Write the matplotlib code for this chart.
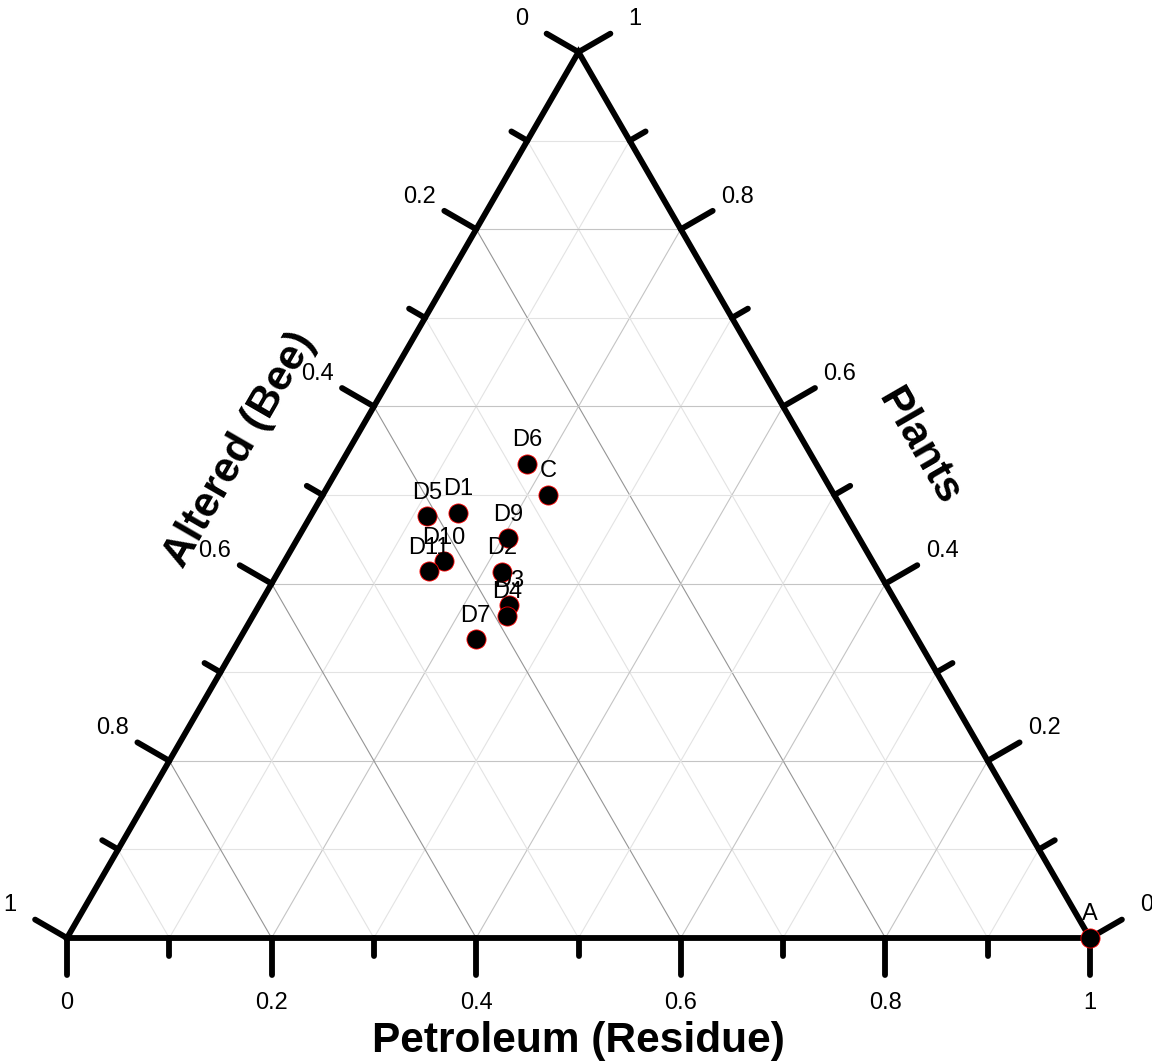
import numpy as np
import matplotlib
matplotlib.use("Agg")
import matplotlib.pyplot as plt

plt.rcParams['font.family'] = ['Liberation Sans', 'DejaVu Sans']

# sample compositions (fractions)
names = ["A", "C", "D1", "D2", "D3", "D4", "D5", "D6", "D7", "D9", "D10", "D11"]
petroleum = [1.00, 0.220, 0.142, 0.219, 0.244, 0.248, 0.114, 0.182, 0.231, 0.206, 0.156, 0.147]
bee = [0.00, 0.280, 0.378, 0.368, 0.380, 0.388, 0.410, 0.283, 0.432, 0.343, 0.419, 0.439]
plants = [0.00, 0.500, 0.480, 0.413, 0.376, 0.364, 0.476, 0.535, 0.337, 0.451, 0.425, 0.414]

tick_vals = [0, 0.1, 0.2, 0.3, 0.4, 0.5, 0.6, 0.7, 0.8, 0.9, 1.0]
tick_labels = {0: "0", 0.2: "0.2", 0.4: "0.4", 0.6: "0.6", 0.8: "0.8", 1.0: "1"}

H = np.sqrt(3) / 2


def to_xy(p, pl):
    p = np.asarray(p)
    pl = np.asarray(pl)
    return p + pl / 2, pl * H


fig = plt.figure(figsize=(11.52, 10.63), dpi=100)
ax = fig.add_axes([0, 0, 1, 1])
ax.set_xlim(-67 / 1023, (1152 - 67) / 1023)
ax.set_ylim(-(1063 - 938) / 1023, 938 / 1023)
ax.axis("off")

# grid
for v in tick_vals[1:-1]:
    major = round(v * 10) % 2 == 0
    light = "#c4c4c4" if major else "#e3e3e3"
    # constant plants
    ax.plot([v / 2, 1 - v / 2], [H * v, H * v], color=light, lw=0.8, zorder=1)
    # constant petroleum
    ax.plot([v, v + (1 - v) / 2], [0, H * (1 - v)], color=light, lw=0.8, zorder=1)
    # constant bee
    ax.plot([1 - v, (1 - v) / 2], [0, H * (1 - v)],
            color="#959595" if major else "#e3e3e3", lw=0.8, zorder=1)

# triangle
ax.plot([0, 1, 0.5, 0], [0, 0, H, 0], color="black", lw=4.2,
        solid_joinstyle="miter", zorder=3)

# ticks and labels
axes_def = [
    # (position on edge, outward normal)
    (lambda v: (v, 0.0), (0.0, -1.0)),                        # petroleum (bottom)
    (lambda v: (0.5 * (1 - v), H * (1 - v)), (-H, 0.5)),      # bee (left)
    (lambda v: (1 - 0.5 * v, H * v), (H, 0.5)),               # plants (right)
]
for pos, (nx, ny) in axes_def:
    for v in tick_vals:
        x, y = pos(v)
        major = round(v * 10) % 2 == 0
        length = 0.036 if major else 0.018
        ax.plot([x, x + nx * length], [y, y + ny * length], color="black",
                lw=4.2, solid_capstyle="round", zorder=3)
        if major:
            ax.text(x + nx * 0.064, y + ny * 0.064, tick_labels[round(v, 1)],
                    ha="center", va="center", fontsize=17)

# axis titles
ax.text(0.5, -0.101, "Petroleum (Residue)", ha="center", va="center",
        fontsize=30.5, fontweight="bold")
ax.text((240 - 67) / 1023, (938 - 450) / 1023, "Altered (Bee)", ha="center",
        va="center", fontsize=30.5, fontweight="bold", rotation=60)
ax.text((918 - 67) / 1023, (938 - 447) / 1023, "Plants", ha="center",
        va="center", fontsize=30.5, fontweight="bold", rotation=-60)

# points
xs, ys = to_xy(petroleum, plants)
ax.scatter(xs, ys, s=190, color="black", edgecolor="red", linewidth=0.6,
           zorder=5, clip_on=False)
for name, x, y in zip(names, xs, ys):
    ax.annotate(name, (x, y), xytext=(0, 17), textcoords="offset points",
                ha="center", va="center", fontsize=17, zorder=6)

fig.savefig("out.png", dpi=100)
